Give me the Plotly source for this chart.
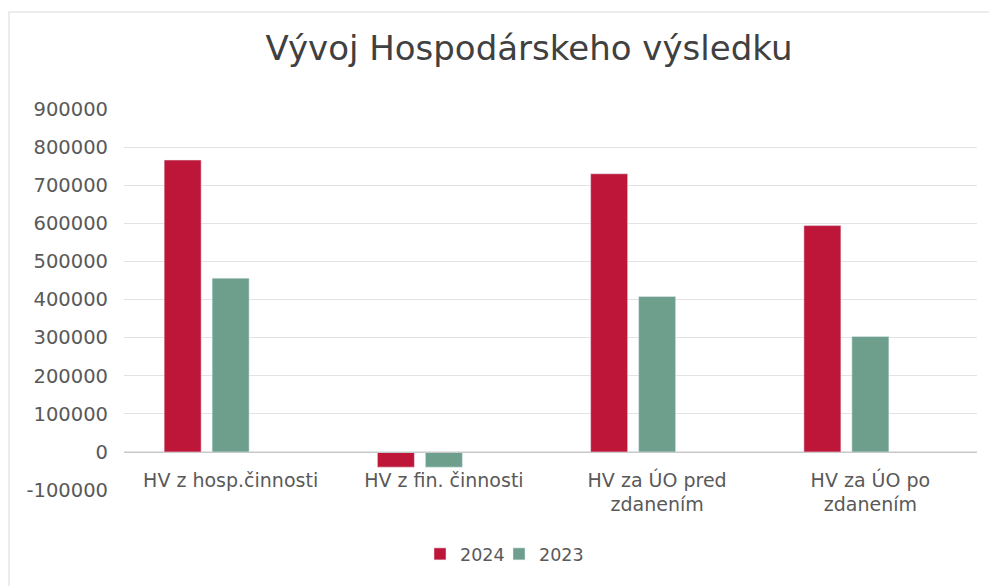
import plotly.graph_objects as go

categories = ["HV z hosp.činnosti", "HV z fin. činnosti", "HV za ÚO pred zdanením", "HV za ÚO po zdanením"]
tick_labels = ["HV z hosp.činnosti", "HV z fin. činnosti", "HV za ÚO pred<br>zdanením", "HV za ÚO po<br>zdanením"]
values_2024 = [766000, -40000, 730000, 594000]
values_2023 = [456000, -40000, 408000, 303000]
values_empty = [None, None, None, None]  # third (empty) series slot in the original chart
y_ticks = [-100000, 0, 100000, 200000, 300000, 400000, 500000, 600000, 700000, 800000, 900000]
y_tick_labels = ["-100000", "0", "100000", "200000", "300000", "400000", "500000", "600000", "700000", "800000", "900000"]

RED = "#BE1638"
GREEN = "#6E9F8D"
FONT = "'DejaVu Sans', sans-serif"

# page body has an 8px margin: figure origin sits at page (8, 8)
OFF = 8
PL, PR, PT, PB = 124, 977, 109, 490  # plot area in page pixels
W, H = 997, 586

def px(xp):
    return (xp - PL) / (PR - PL)

def py(yp):
    return (PB - yp) / (PB - PT)

fig = go.Figure()
fig.add_trace(go.Bar(name="2024", x=categories, y=values_2024, marker_color=RED, legend="legend"))
fig.add_trace(go.Bar(name="2023", x=categories, y=values_2023, marker_color=GREEN, legend="legend2"))
fig.add_trace(go.Bar(name="", x=categories, y=values_empty, showlegend=False, hoverinfo="skip"))

legend_common = dict(orientation="h", xanchor="left", y=py(554), yanchor="middle",
                     font=dict(size=17.5, color="#595959"), itemwidth=30,
                     bgcolor="rgba(0,0,0,0)")

fig.update_layout(
    width=W, height=H,
    margin=dict(l=PL - OFF, r=W - (PR - OFF), t=PT - OFF, b=H - (PB - OFF), autoexpand=False),
    paper_bgcolor="white", plot_bgcolor="white",
    barmode="group", bargap=0.325, bargroupgap=0.229,
    title=dict(text="Vývoj Hospodárskeho výsledku", x=(529 - OFF) / W, xanchor="center",
               y=1 - (48 - OFF) / H, yanchor="middle",
               font=dict(family=FONT, size=34, color="#404040")),
    font=dict(family=FONT, color="#595959"),
    legend=dict(x=px(420), **legend_common),
    legend2=dict(x=px(499), **legend_common),
    xaxis=dict(tickmode="array", tickvals=categories, ticktext=tick_labels,
               anchor="free", position=0.1, showline=True, linecolor="#C8C8C8",
               showgrid=False, ticks="", automargin=False, ticklabelstandoff=11,
               tickfont=dict(size=19, color="#595959")),
    yaxis=dict(range=[-100000, 900000], tickmode="array", tickvals=y_ticks, ticktext=y_tick_labels,
               showgrid=True, gridcolor="#E3E3E3", zeroline=False, showline=False,
               ticks="", automargin=False, ticklabelstandoff=15,
               tickfont=dict(size=19.5, color="#595959")),
    showlegend=True,
)

fig.add_shape(type="rect", xref="paper", yref="paper",
              x0=px(9), x1=px(1010), y0=py(600), y1=py(12),
              line=dict(color="#E6E6E6", width=1.5), fillcolor="rgba(0,0,0,0)", layer="below")

fig.write_html("out.html")
